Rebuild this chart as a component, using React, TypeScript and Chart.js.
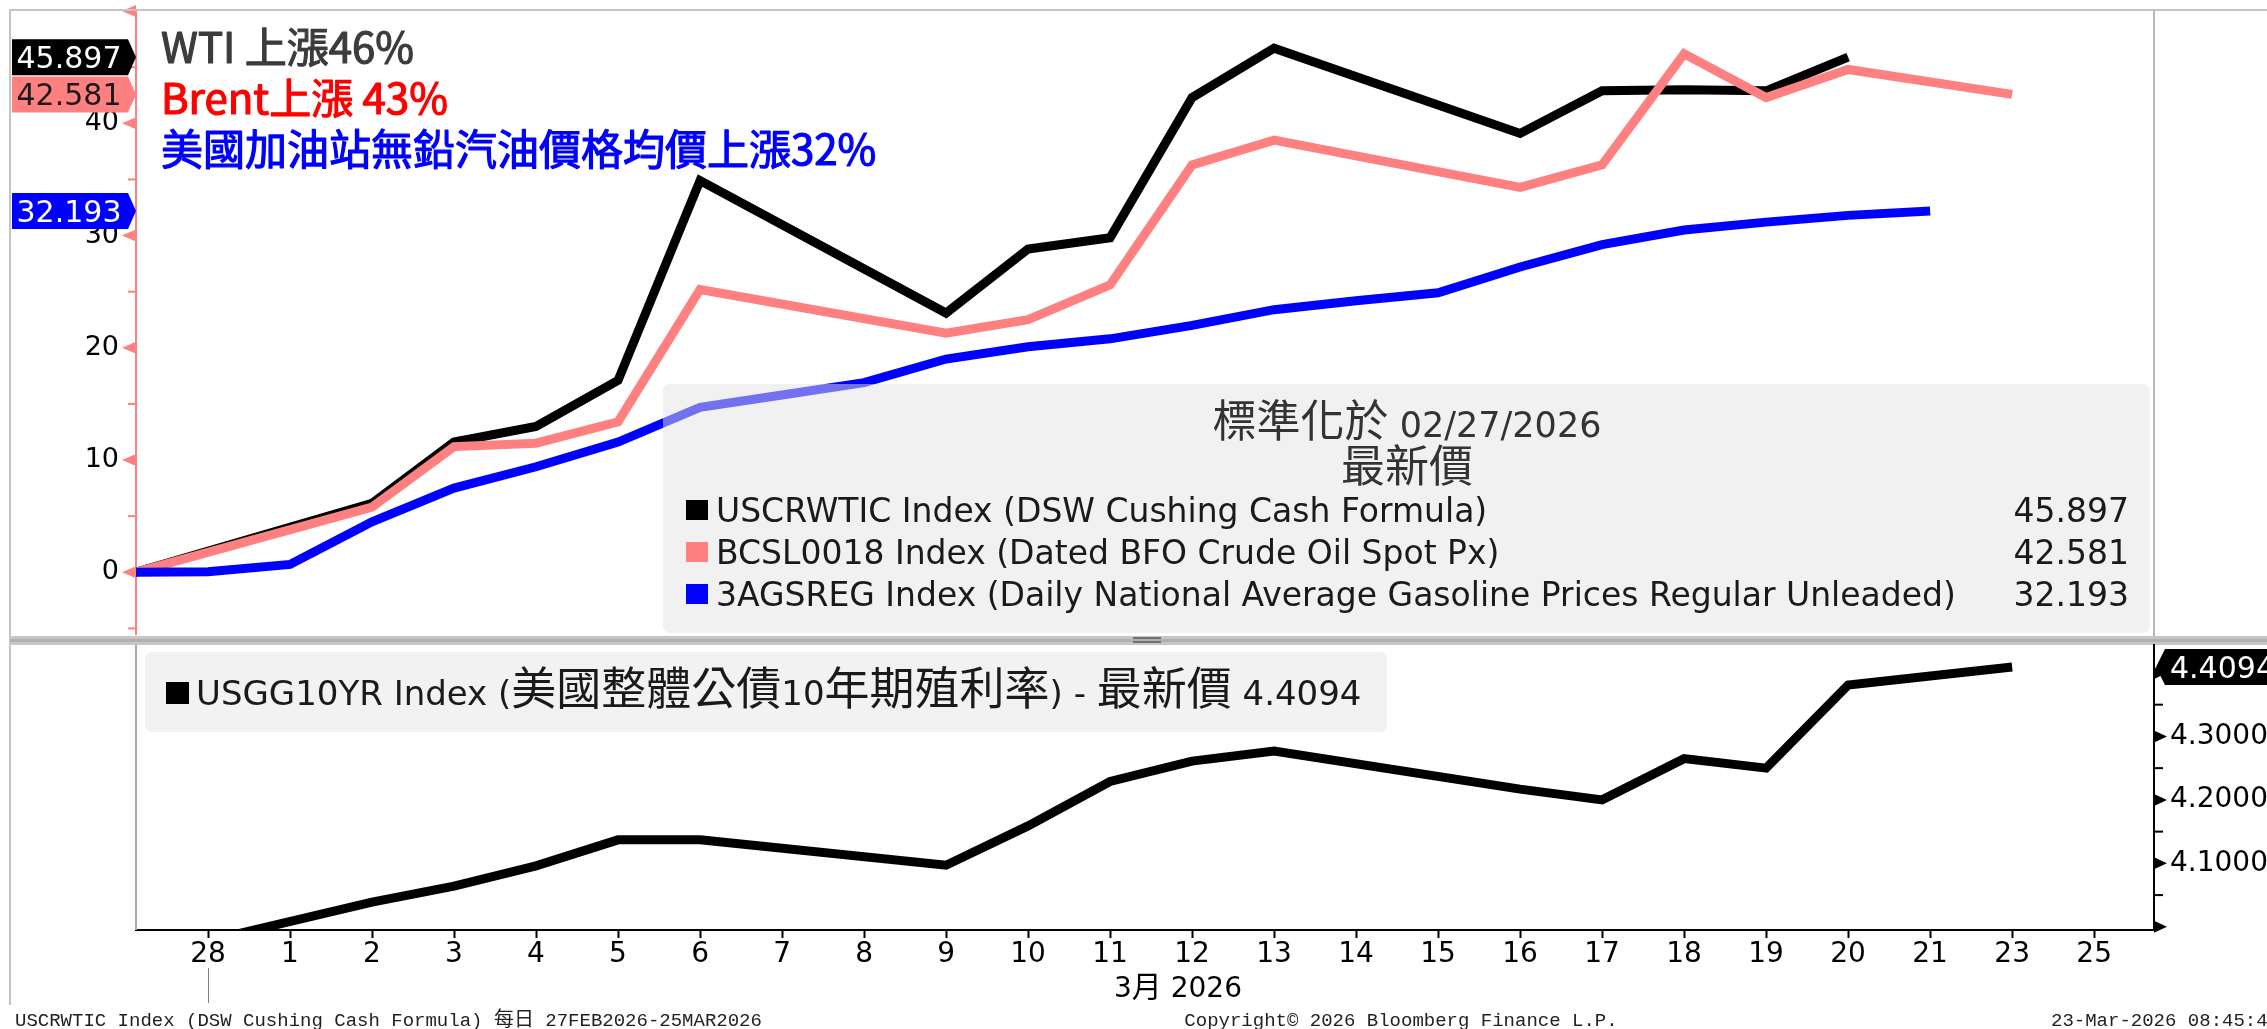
import React, { useEffect, useRef } from 'react';
import { Chart, registerables } from 'chart.js';

Chart.register(...registerables);

const W = 2267;
const H = 1029;

// ---------------- data ----------------
// x axis slots: "28" = 0, "1" = 1, ... "21" = 21, "23" = 22, "25" = 23
const xLabels = ['28', '1', '2', '3', '4', '5', '6', '7', '8', '9', '10', '11', '12', '13', '14', '15', '16', '17', '18', '19', '20', '21', '23', '25'];
const baseSlot = -0.878; // 27 Feb 2026 (normalisation date)
const slotAxisMax = 23.73;

const wtiSlots = [baseSlot, 2, 3, 4, 5, 6, 9, 10, 11, 12, 13, 16, 17, 18, 19, 20];
const wtiValues = [0, 6.15, 11.6, 13.0, 17.1, 34.9, 23.1, 28.8, 29.8, 42.3, 46.7, 39.1, 42.9, 43.0, 42.9, 45.897];

const brentSlots = [baseSlot, 2, 3, 4, 5, 6, 9, 10, 11, 12, 13, 16, 17, 18, 19, 20, 22];
const brentValues = [0, 5.8, 11.2, 11.5, 13.4, 25.2, 21.3, 22.5, 25.6, 36.3, 38.5, 34.3, 36.3, 46.2, 42.3, 44.8, 42.581];

const gasSlots = [baseSlot, 0, 1, 2, 3, 4, 5, 6, 7, 8, 9, 10, 11, 12, 13, 14, 15, 16, 17, 18, 19, 20, 21];
const gasValues = [0, 0.05, 0.7, 4.5, 7.5, 9.4, 11.6, 14.7, 15.8, 16.9, 19.0, 20.1, 20.8, 22.0, 23.4, 24.2, 24.9, 27.2, 29.2, 30.5, 31.2, 31.8, 32.193];

const ustSlots = [baseSlot, 2, 3, 4, 5, 6, 9, 10, 11, 12, 13, 16, 17, 18, 19, 20, 22];
const ustValues = [3.951, 4.039, 4.064, 4.096, 4.137, 4.137, 4.097, 4.159, 4.229, 4.261, 4.277, 4.217, 4.2, 4.265, 4.25, 4.381, 4.4094];

const topYMin = -5.5;
const topYMax = 50.1;
const botYMin = 3.995;
const botYMax = 4.444;

const seriesNames = [
  'USCRWTIC Index (DSW Cushing Cash Formula)',
  'BCSL0018 Index (Dated BFO Crude Oil Spot Px)',
  '3AGSREG Index (Daily National Average Gasoline Prices Regular Unleaded)',
];
const seriesColors = ['#000000', '#ff8080', '#0000ff'];
const tagTextColors = ['#ffffff', '#1a1a1a', '#ffffff'];
const annotations = ['WTI 上漲46%', 'Brent上漲 43%', '美國加油站無鉛汽油價格均價上漲32%'];
const annotationColors = ['#3c3c3c', '#ff0000', '#0000ff'];
const legendTitle = '標準化於 02/27/2026';
const legendSubtitle = '最新價';
const ustName = 'USGG10YR Index (美國整體公債10年期殖利率) - 最新價';
const monthLabel = '3月 2026';
const footerLeft = 'USCRWTIC Index (DSW Cushing Cash Formula) 每日 27FEB2026-25MAR2026';
const footerCenter = 'Copyright© 2026 Bloomberg Finance L.P.';
const footerRight = '23-Mar-2026 08:45:44';

// ---------------- helpers ----------------
const LATIN = '"DejaVu Sans", "Noto Sans", sans-serif';
const CJK = '"Noto Sans CJK TC", "Noto Sans CJK SC", sans-serif';
const MONO = '"Liberation Mono", "DejaVu Sans Mono", monospace';

const isCJK = (ch: string) => /[\u2e80-\u9fff\uf900-\ufaff\u3000-\u303f\uff00-\uffef]/.test(ch);

function splitRuns(text: string) {
  const out: { t: string; c: boolean }[] = [];
  for (const ch of text) {
    const c = isCJK(ch);
    const last = out[out.length - 1];
    if (last && last.c === c) last.t += ch;
    else out.push({ t: ch, c });
  }
  return out;
}

function drawMixed(
  ctx: CanvasRenderingContext2D,
  text: string,
  x: number,
  y: number,
  latinFont: string,
  cjkFont: string,
  align: 'left' | 'center' | 'right',
  color: string,
) {
  const rs = splitRuns(text);
  let total = 0;
  const widths = rs.map((r) => {
    ctx.font = r.c ? cjkFont : latinFont;
    const w = ctx.measureText(r.t).width;
    total += w;
    return w;
  });
  let cx = align === 'left' ? x : align === 'center' ? x - total / 2 : x - total;
  ctx.fillStyle = color;
  ctx.textAlign = 'left';
  ctx.textBaseline = 'alphabetic';
  rs.forEach((r, i) => {
    ctx.font = r.c ? cjkFont : latinFont;
    ctx.fillText(r.t, cx, y);
    cx += widths[i];
  });
  return total;
}

function roundRectPath(ctx: CanvasRenderingContext2D, x: number, y: number, w: number, h: number, r: number) {
  ctx.beginPath();
  ctx.moveTo(x + r, y);
  ctx.lineTo(x + w - r, y);
  ctx.quadraticCurveTo(x + w, y, x + w, y + r);
  ctx.lineTo(x + w, y + h - r);
  ctx.quadraticCurveTo(x + w, y + h, x + w - r, y + h);
  ctx.lineTo(x + r, y + h);
  ctx.quadraticCurveTo(x, y + h, x, y + h - r);
  ctx.lineTo(x, y + r);
  ctx.quadraticCurveTo(x, y, x + r, y);
  ctx.closePath();
}

function pts(slots: number[], values: number[]) {
  return slots.map((x, i) => ({ x, y: values[i] }));
}

const lastOf = (a: number[]) => a[a.length - 1];

// ---------------- plugins ----------------
const topDecor = {
  id: 'topDecor',
  beforeDraw(chart: any) {
    const ctx: CanvasRenderingContext2D = chart.ctx;
    ctx.save();
    ctx.fillStyle = '#ffffff';
    ctx.fillRect(0, 0, W, H);
    ctx.restore();
  },
  afterDatasetsDraw(chart: any) {
    const ctx: CanvasRenderingContext2D = chart.ctx;
    const y = chart.scales.y;
    const axisX = chart.chartArea.left;
    ctx.save();

    // axis tick marks (triangles at majors, short lines at minors)
    ctx.fillStyle = '#ff8080';
    ctx.strokeStyle = '#ff8080';
    ctx.lineWidth = 2;
    y.ticks.forEach((t: any) => {
      const py = y.getPixelForValue(t.value);
      if (Math.round(t.value) % 10 === 0) {
        ctx.beginPath();
        ctx.moveTo(axisX, py - 6);
        ctx.lineTo(axisX, py + 6);
        ctx.lineTo(axisX - 14, py);
        ctx.closePath();
        ctx.fill();
      } else {
        ctx.beginPath();
        ctx.moveTo(axisX - 8, py);
        ctx.lineTo(axisX, py);
        ctx.stroke();
      }
    });

    // legend box (semi transparent, over the lines)
    ctx.fillStyle = 'rgba(228,228,228,0.5)';
    roundRectPath(ctx, 663, 384, 1487, 249, 8);
    ctx.fill();
    drawMixed(ctx, legendTitle, 1407, 437, `35px ${LATIN}`, `44px ${CJK}`, 'center', '#333333');
    drawMixed(ctx, legendSubtitle, 1407, 482, `35px ${LATIN}`, `44px ${CJK}`, 'center', '#333333');
    const lasts = [lastOf(wtiValues), lastOf(brentValues), lastOf(gasValues)];
    const rowY = [510, 552, 594];
    seriesNames.forEach((name, i) => {
      ctx.fillStyle = seriesColors[i];
      ctx.fillRect(686, rowY[i] - 10, 22, 20);
      drawMixed(ctx, name, 716, rowY[i] + 12, `33px ${LATIN}`, `44px ${CJK}`, 'left', '#1a1a1a');
      drawMixed(ctx, lasts[i].toFixed(3), 2129, rowY[i] + 12, `33px ${LATIN}`, `44px ${CJK}`, 'right', '#1a1a1a');
    });

    // annotations (slightly emboldened regular weight)
    ctx.textAlign = 'left';
    ctx.textBaseline = 'alphabetic';
    ctx.font = `42px ${CJK}`;
    ctx.lineWidth = 1.2;
    ctx.lineJoin = 'round';
    const annY = [63, 114, 165];
    annotations.forEach((a, i) => {
      ctx.fillStyle = annotationColors[i];
      ctx.strokeStyle = annotationColors[i];
      ctx.fillText(a, 161, annY[i]);
      ctx.strokeText(a, 161, annY[i]);
    });

    // last value tags on left axis
    lasts.forEach((v, i) => {
      const cy = y.getPixelForValue(v);
      const half = 18;
      const tip = axisX;
      const r = tip - 8;
      ctx.beginPath();
      ctx.moveTo(12, cy - half);
      ctx.lineTo(r, cy - half);
      ctx.lineTo(tip, cy);
      ctx.lineTo(r, cy + half);
      ctx.lineTo(12, cy + half);
      ctx.closePath();
      ctx.fillStyle = seriesColors[i];
      ctx.fill();
      ctx.font = `30px ${LATIN}`;
      ctx.fillStyle = tagTextColors[i];
      ctx.textAlign = 'center';
      ctx.textBaseline = 'alphabetic';
      ctx.fillText(v.toFixed(3), 69, cy + 11);
    });
    ctx.restore();
  },
  afterDraw(chart: any) {
    const ctx: CanvasRenderingContext2D = chart.ctx;
    ctx.save();
    // frame
    ctx.fillStyle = '#c4c4c4';
    ctx.fillRect(9, 9, W - 9, 2);
    ctx.fillRect(9, 9, 2, 996);
    ctx.fillStyle = '#b8b8b8';
    ctx.fillRect(2153, 10, 2, 627);
    // separator band between panels
    ctx.fillStyle = '#c6c6c6';
    ctx.fillRect(10, 636, W - 10, 9);
    ctx.fillStyle = '#b0b0b0';
    ctx.fillRect(10, 639, W - 10, 3);
    ctx.fillStyle = '#707070';
    ctx.fillRect(1133, 637, 28, 2);
    ctx.fillRect(1133, 641, 28, 2);
    ctx.restore();
  },
};

const botDecor = {
  id: 'botDecor',
  afterDraw(chart: any) {
    const ctx: CanvasRenderingContext2D = chart.ctx;
    const y = chart.scales.y;
    const x = chart.scales.x;
    const a = chart.chartArea;
    ctx.save();

    // left thin line of the lower panel
    ctx.fillStyle = '#a8a8a8';
    ctx.fillRect(a.left - 1, a.top, 2, a.bottom - a.top);

    // right axis ticks
    ctx.fillStyle = '#000';
    ctx.strokeStyle = '#000';
    ctx.lineWidth = 2;
    y.ticks.forEach((t: any) => {
      const py = y.getPixelForValue(t.value);
      const k = Math.round(t.value * 20);
      if (k % 2 === 0) {
        ctx.beginPath();
        ctx.moveTo(a.right, py - 6);
        ctx.lineTo(a.right, py + 6);
        ctx.lineTo(a.right + 13, py);
        ctx.closePath();
        ctx.fill();
      } else {
        ctx.beginPath();
        ctx.moveTo(a.right, py);
        ctx.lineTo(a.right + 9, py);
        ctx.stroke();
      }
    });

    // legend box
    ctx.fillStyle = '#f2f2f2';
    roundRectPath(ctx, 145, 652, 1242, 80, 8);
    ctx.fill();
    ctx.fillStyle = '#000';
    ctx.fillRect(166, 682, 23, 22);
    const lastUst = lastOf(ustValues);
    drawMixed(ctx, `${ustName} ${lastUst.toFixed(4)}`, 196, 705, `34px ${LATIN}`, `45px ${CJK}`, 'left', '#1a1a1a');

    // last value tag (right)
    const cy = y.getPixelForValue(lastUst);
    const tip = a.right + 2;
    ctx.beginPath();
    ctx.moveTo(W, cy - 18);
    ctx.lineTo(tip + 9, cy - 18);
    ctx.lineTo(tip, cy);
    ctx.lineTo(tip + 9, cy + 18);
    ctx.lineTo(W, cy + 18);
    ctx.closePath();
    ctx.fillStyle = '#000';
    ctx.fill();
    ctx.fillStyle = '#fff';
    ctx.font = `30px ${LATIN}`;
    ctx.textAlign = 'left';
    ctx.textBaseline = 'alphabetic';
    ctx.fillText(lastUst.toFixed(4), 2170, cy + 11);

    // month label + separator line under "28"
    drawMixed(ctx, monthLabel, 1178, 997, `28px ${LATIN}`, `30px ${CJK}`, 'center', '#000');
    const px = x.getPixelForValue(0);
    ctx.strokeStyle = '#808080';
    ctx.lineWidth = 1;
    ctx.beginPath();
    ctx.moveTo(Math.round(px) + 0.5, 968);
    ctx.lineTo(Math.round(px) + 0.5, 1003);
    ctx.stroke();

    // footer
    drawMixed(ctx, footerLeft, 15, 1026, `19px ${MONO}`, `20px ${CJK}`, 'left', '#222');
    drawMixed(ctx, footerCenter, 1401, 1026, `19px ${MONO}`, `20px ${CJK}`, 'center', '#222');
    drawMixed(ctx, footerRight, 2051, 1026, `19px ${MONO}`, `20px ${CJK}`, 'left', '#222');
    ctx.restore();
  },
};

// ---------------- component ----------------
export default function App() {
  const topRef = useRef<HTMLCanvasElement>(null);
  const botRef = useRef<HTMLCanvasElement>(null);

  useEffect(() => {
    document.body.style.margin = '0';
    document.body.style.overflow = 'hidden';

    const common: any = {
      responsive: false,
      animation: false,
      devicePixelRatio: 1,
      events: [],
      plugins: { legend: { display: false }, tooltip: { enabled: false } },
      elements: {
        point: { radius: 0 },
        line: { tension: 0, borderJoinStyle: 'miter', borderCapStyle: 'butt' },
      },
    };

    const top = new Chart(topRef.current as HTMLCanvasElement, {
      type: 'line',
      data: {
        datasets: [
          { data: pts(gasSlots, gasValues), borderColor: seriesColors[2], borderWidth: 9, order: 0 },
          { data: pts(brentSlots, brentValues), borderColor: seriesColors[1], borderWidth: 9, order: 1 },
          { data: pts(wtiSlots, wtiValues), borderColor: seriesColors[0], borderWidth: 9, order: 2 },
        ],
      } as any,
      options: {
        ...common,
        layout: { padding: { left: 10, top: 10, right: W - 2154, bottom: H - 634 }, autoPadding: false },
        scales: {
          x: { type: 'linear', display: false, min: baseSlot, max: slotAxisMax },
          y: {
            type: 'linear',
            position: 'left',
            min: topYMin,
            max: topYMax,
            ticks: {
              stepSize: 5,
              includeBounds: false,
              maxTicksLimit: 100,
              autoSkip: false,
              padding: 17,
              color: '#000',
              font: { family: 'DejaVu Sans', size: 27 },
              callback: (v: any) => (Math.round(v) % 10 === 0 && v >= 0 && v <= 40 ? String(Math.round(v)) : ''),
            },
            grid: { drawOnChartArea: false, drawTicks: false },
            border: { color: '#ff8080', width: 2 },
            afterFit: (s: any) => {
              s.width = 126;
              s.paddingTop = 0;
              s.paddingBottom = 0;
            },
          },
        },
      } as any,
      plugins: [topDecor],
    });

    const bot = new Chart(botRef.current as HTMLCanvasElement, {
      type: 'line',
      data: {
        datasets: [{ data: pts(ustSlots, ustValues), borderColor: '#000', borderWidth: 9, clip: 0 }],
      } as any,
      options: {
        ...common,
        layout: { padding: { left: 136, top: 645, right: 0, bottom: 0 }, autoPadding: false },
        scales: {
          x: {
            type: 'linear',
            position: 'bottom',
            min: baseSlot,
            max: slotAxisMax,
            ticks: {
              stepSize: 1,
              includeBounds: false,
              maxTicksLimit: 100,
              autoSkip: false,
              maxRotation: 0,
              minRotation: 0,
              padding: 3,
              color: '#000',
              font: { family: 'DejaVu Sans', size: 28, lineHeight: 1 },
              callback: (v: any) => (Number.isInteger(v) ? xLabels[v] ?? '' : ''),
            },
            grid: { drawOnChartArea: false, drawTicks: true, tickLength: 8, tickColor: '#000', tickWidth: 2 },
            border: { color: '#000', width: 2 },
            afterFit: (s: any) => {
              s.height = H - 930;
              s.paddingLeft = 0;
              s.paddingRight = 0;
            },
          },
          y: {
            type: 'linear',
            position: 'right',
            min: botYMin,
            max: botYMax,
            ticks: {
              stepSize: 0.05,
              includeBounds: false,
              maxTicksLimit: 100,
              autoSkip: false,
              padding: 16,
              color: '#000',
              font: { family: 'DejaVu Sans', size: 28 },
              callback: (v: any) => {
                const k = Math.round(v * 20);
                return k % 2 === 0 && k >= 82 && k <= 86 ? (k / 20).toFixed(4) : '';
              },
            },
            grid: { drawOnChartArea: false, drawTicks: false },
            border: { color: '#000', width: 2 },
            afterFit: (s: any) => {
              s.width = W - 2154;
              s.paddingTop = 0;
              s.paddingBottom = 0;
            },
          },
        },
      } as any,
      plugins: [botDecor],
    });

    return () => {
      top.destroy();
      bot.destroy();
    };
  }, []);

  const cs: React.CSSProperties = { position: 'absolute', left: 0, top: 0, width: W, height: H, display: 'block' };
  return (
    <div style={{ position: 'relative', width: W, height: H, overflow: 'hidden', background: '#fff' }}>
      <canvas ref={topRef} width={W} height={H} style={cs} />
      <canvas ref={botRef} width={W} height={H} style={cs} />
    </div>
  );
}
